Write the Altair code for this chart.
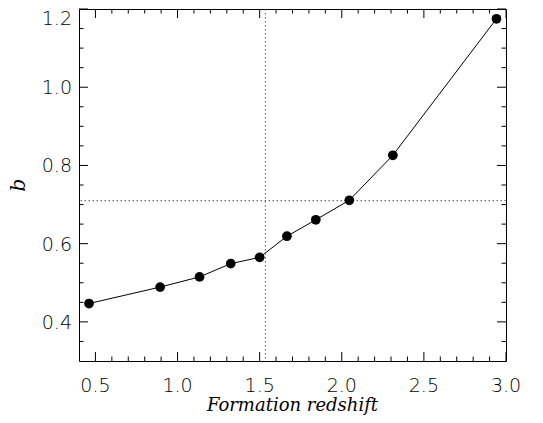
import altair as alt
import pandas as pd

# ---- data ----
FORMATION_Z = [0.461, 0.894, 1.134, 1.324, 1.500, 1.666, 1.842, 2.046, 2.311, 2.942]
BIAS_B = [0.447, 0.489, 0.515, 0.549, 0.565, 0.619, 0.661, 0.711, 0.826, 1.175]

X_MAJOR = [0.5, 1.0, 1.5, 2.0, 2.5, 3.0]
Y_MAJOR = [0.4, 0.6, 0.8, 1.0, 1.2]
X_MINOR = [0.6, 0.7, 0.8, 0.9, 1.1, 1.2, 1.3, 1.4, 1.6, 1.7, 1.8, 1.9,
           2.1, 2.2, 2.3, 2.4, 2.6, 2.7, 2.8, 2.9]
Y_MINOR = [0.35, 0.45, 0.5, 0.55, 0.65, 0.7, 0.75, 0.85, 0.9, 0.95,
           1.05, 1.1, 1.15]
VLINE_X = [1.535]
HLINE_Y = [0.71]
X_DOMAIN = [0.4, 3.0]
Y_DOMAIN = [0.3, 1.2]
X_TITLE = "Formation redshift"
Y_TITLE = "b"

W, H = 427, 352
MAJOR_LEN, MINOR_LEN = 9, 4.5
LABEL_FONT = "DejaVu Sans"
TITLE_FONT = "DejaVu Serif"

df = pd.DataFrame({"z": FORMATION_Z, "b": BIAS_B})
xs = alt.Scale(domain=X_DOMAIN, nice=False, zero=False)
ys = alt.Scale(domain=Y_DOMAIN, nice=False, zero=False)


def X(field):
    return alt.X(field, scale=xs, axis=None)


def Y(field):
    return alt.Y(field, scale=ys, axis=None)


line = alt.Chart(df).mark_line(color="black", strokeWidth=1).encode(
    x=X("z:Q"), y=Y("b:Q"))

points = alt.Chart(df).mark_circle(color="black", opacity=1, size=95).encode(
    x=X("z:Q"), y=Y("b:Q"))


# inward-pointing tick marks on all four sides of the frame,
# positioned by the tick values through the shared scales
def x_ticks(values, length, edge_y, inward):
    return alt.Chart(pd.DataFrame({"v": values})).mark_rule(
        color="black", strokeWidth=1
    ).encode(
        x=X("v:Q"),
        y=alt.value(edge_y),
        y2=alt.value(edge_y + inward * length),
    )


def y_ticks(values, length, edge_x, inward):
    return alt.Chart(pd.DataFrame({"v": values})).mark_rule(
        color="black", strokeWidth=1
    ).encode(
        y=Y("v:Q"),
        x=alt.value(edge_x),
        x2=alt.value(edge_x + inward * length),
    )


ticks = [
    x_ticks(X_MAJOR, MAJOR_LEN, H, -1),
    x_ticks(X_MINOR, MINOR_LEN, H, -1),
    x_ticks(X_MAJOR, MAJOR_LEN, 0, 1),
    x_ticks(X_MINOR, MINOR_LEN, 0, 1),
    y_ticks(Y_MAJOR, MAJOR_LEN, 0, 1),
    y_ticks(Y_MINOR, MINOR_LEN, 0, 1),
    y_ticks(Y_MAJOR, MAJOR_LEN, W, -1),
    y_ticks(Y_MINOR, MINOR_LEN, W, -1),
]

# tick labels and axis titles as text marks
x_labels = alt.Chart(pd.DataFrame({"v": X_MAJOR})).mark_text(
    font=LABEL_FONT, fontSize=19, fontWeight=200, color="black",
    align="center", baseline="top",
).encode(x=X("v:Q"), y=alt.value(H + 16), text=alt.Text("v:Q", format=".1f"))

y_labels = alt.Chart(pd.DataFrame({"v": Y_MAJOR[:-1]})).mark_text(
    font=LABEL_FONT, fontSize=19, fontWeight=200, color="black",
    align="right", baseline="middle", dy=1,
).encode(y=Y("v:Q"), x=alt.value(-7), text=alt.Text("v:Q", format=".1f"))

y_label_top = alt.Chart(pd.DataFrame({"v": Y_MAJOR[-1:]})).mark_text(
    font=LABEL_FONT, fontSize=19, fontWeight=200, color="black",
    align="right", baseline="top", dy=1,
).encode(y=Y("v:Q"), x=alt.value(-7), text=alt.Text("v:Q", format=".1f"))

x_title = alt.Chart(pd.DataFrame({"t": [X_TITLE]})).mark_text(
    font=TITLE_FONT, fontSize=18, fontStyle="italic", color="black",
    align="center", baseline="alphabetic",
).encode(x=alt.value(W / 2), y=alt.value(H + 50), text="t:N")

y_title = alt.Chart(pd.DataFrame({"t": [Y_TITLE]})).mark_text(
    font=TITLE_FONT, fontSize=20, fontStyle="italic", color="black",
    align="center", baseline="alphabetic", angle=270,
).encode(x=alt.value(-54), y=alt.value(H / 2), text="t:N")

vrule = alt.Chart(pd.DataFrame({"x": VLINE_X})).mark_rule(
    color="#555555", strokeWidth=1, strokeDash=[1.5, 2.5]
).encode(x=X("x:Q"))

hrule = alt.Chart(pd.DataFrame({"y": HLINE_Y})).mark_rule(
    color="#555555", strokeWidth=1, strokeDash=[1.5, 2.5]
).encode(y=Y("y:Q"))

chart = alt.layer(
    line, vrule, hrule, *ticks, points,
    x_labels, y_labels, y_label_top, x_title, y_title,
).properties(
    width=W, height=H,
    autosize=alt.AutoSizeParams(type="none"),
    padding={"left": 71, "top": 1, "right": 28, "bottom": 54},
    background="white",
).configure_view(stroke="black", strokeWidth=1)

chart.save("out.html", embed_options={"renderer": "svg", "actions": False})
